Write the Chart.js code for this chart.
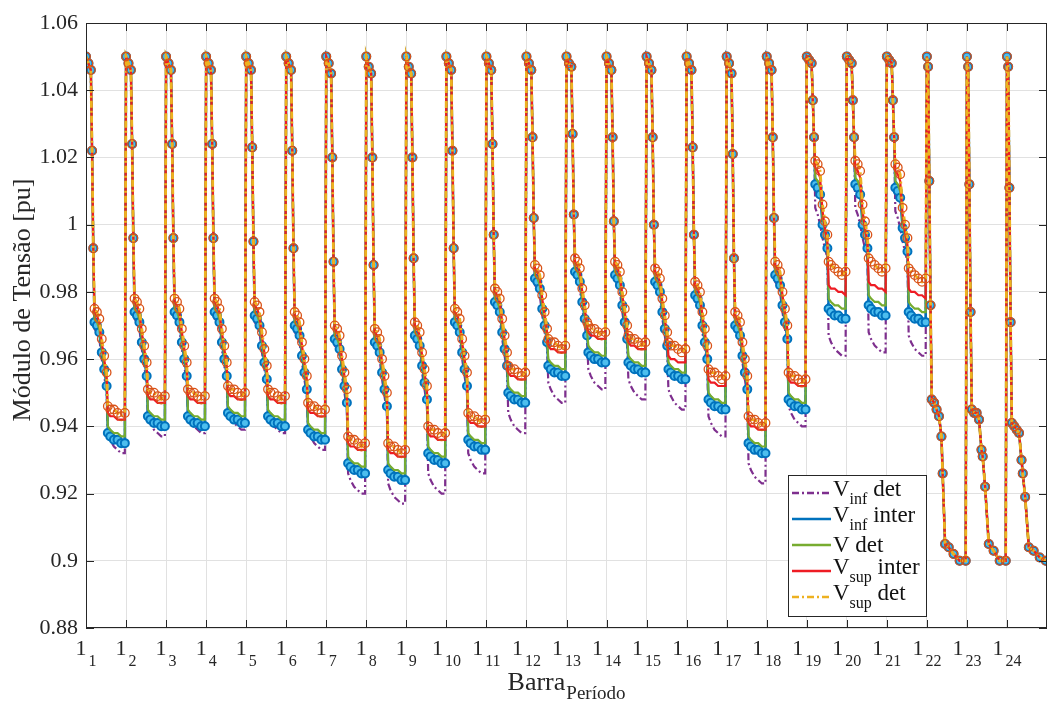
<!DOCTYPE html>
<html>
<head>
<meta charset="utf-8">
<script src="https://cdn.jsdelivr.net/npm/chart.js@4.4.1/dist/chart.umd.min.js"></script>
<style>
  html, body { margin: 0; padding: 0; background: #fff; }
  #wrap { width: 1054px; height: 702px; }
</style>
</head>
<body>
<div id="wrap"><canvas id="chart" width="1054" height="702"></canvas></div>
<script>
const periods = [1, 2, 3, 4, 5, 6, 7, 8, 9, 10, 11, 12, 13, 14, 15, 16, 17, 18, 19, 20, 21, 22, 23, 24]
const busesPerPeriod = 33
const yTicks = [0.88, 0.9, 0.92, 0.94, 0.96, 0.98, 1, 1.02, 1.04, 1.06]

// buses sampled in periods 1-21 and in periods 22-24
const earlyBuses = [1, 3, 5, 6, 7, 8, 10, 12, 14, 16, 18, 19, 21, 24, 27, 30, 33]
const lateBuses = [1, 2, 3, 4, 5, 7, 9, 11, 13, 14, 16, 19, 23, 28, 33]

// buses 1,3,5,6,7 of periods 1-21 (same for every curve)
const headVoltages = [
    [1.05, 1.048, 1.046, 1.022, 0.993],
    [1.05, 1.048, 1.046, 1.024, 0.996],
    [1.05, 1.048, 1.046, 1.024, 0.996],
    [1.05, 1.048, 1.046, 1.024, 0.996],
    [1.05, 1.048, 1.046, 1.023, 0.995],
    [1.05, 1.048, 1.046, 1.022, 0.993],
    [1.05, 1.048, 1.045, 1.020, 0.989],
    [1.05, 1.047, 1.045, 1.020, 0.988],
    [1.05, 1.047, 1.045, 1.020, 0.990],
    [1.05, 1.048, 1.046, 1.022, 0.993],
    [1.05, 1.048, 1.046, 1.024, 0.997],
    [1.05, 1.048, 1.046, 1.026, 1.002],
    [1.05, 1.048, 1.047, 1.027, 1.003],
    [1.05, 1.048, 1.046, 1.026, 1.001],
    [1.05, 1.048, 1.046, 1.026, 1.000],
    [1.05, 1.048, 1.046, 1.023, 0.997],
    [1.05, 1.048, 1.045, 1.021, 0.990],
    [1.05, 1.048, 1.046, 1.026, 1.002],
    [1.05, 1.049, 1.048, 1.037, 1.026],
    [1.05, 1.049, 1.048, 1.037, 1.026],
    [1.05, 1.049, 1.048, 1.037, 1.026]
]

// buses 8..33 of periods 1-21, one row per period
const vSupDet = [
    [0.975, 0.974, 0.972, 0.966, 0.961, 0.956, 0.946, 0.945, 0.945, 0.944, 0.943, 0.944],
    [0.978, 0.977, 0.975, 0.969, 0.964, 0.959, 0.951, 0.950, 0.950, 0.949, 0.948, 0.949],
    [0.978, 0.977, 0.975, 0.969, 0.964, 0.959, 0.951, 0.950, 0.950, 0.949, 0.948, 0.949],
    [0.978, 0.977, 0.975, 0.969, 0.964, 0.959, 0.952, 0.951, 0.951, 0.950, 0.949, 0.950],
    [0.977, 0.976, 0.974, 0.968, 0.963, 0.958, 0.951, 0.950, 0.950, 0.949, 0.948, 0.949],
    [0.974, 0.973, 0.971, 0.965, 0.960, 0.955, 0.947, 0.946, 0.946, 0.945, 0.944, 0.945],
    [0.970, 0.969, 0.967, 0.961, 0.956, 0.951, 0.937, 0.936, 0.936, 0.935, 0.934, 0.935],
    [0.969, 0.968, 0.966, 0.960, 0.955, 0.950, 0.935, 0.934, 0.934, 0.933, 0.932, 0.933],
    [0.971, 0.970, 0.968, 0.962, 0.957, 0.952, 0.940, 0.939, 0.939, 0.938, 0.937, 0.938],
    [0.975, 0.974, 0.972, 0.966, 0.961, 0.956, 0.944, 0.943, 0.943, 0.942, 0.941, 0.942],
    [0.981, 0.980, 0.978, 0.972, 0.967, 0.962, 0.958, 0.957, 0.957, 0.956, 0.955, 0.956],
    [0.988, 0.987, 0.985, 0.979, 0.974, 0.969, 0.966, 0.965, 0.965, 0.964, 0.963, 0.964],
    [0.990, 0.989, 0.987, 0.981, 0.976, 0.971, 0.970, 0.969, 0.969, 0.968, 0.967, 0.968],
    [0.989, 0.988, 0.986, 0.980, 0.975, 0.970, 0.967, 0.966, 0.966, 0.965, 0.964, 0.965],
    [0.987, 0.986, 0.984, 0.978, 0.973, 0.968, 0.965, 0.964, 0.964, 0.963, 0.962, 0.963],
    [0.983, 0.982, 0.980, 0.974, 0.969, 0.964, 0.957, 0.956, 0.956, 0.955, 0.954, 0.955],
    [0.974, 0.973, 0.971, 0.965, 0.960, 0.955, 0.943, 0.942, 0.942, 0.941, 0.940, 0.941],
    [0.989, 0.988, 0.986, 0.980, 0.975, 0.970, 0.956, 0.955, 0.955, 0.954, 0.953, 0.954],
    [1.019, 1.018, 1.016, 1.006, 1.001, 0.997, 0.989, 0.988, 0.987, 0.986, 0.985, 0.986],
    [1.019, 1.018, 1.016, 1.006, 1.001, 0.997, 0.990, 0.989, 0.988, 0.987, 0.986, 0.987],
    [1.018, 1.017, 1.015, 1.005, 1.000, 0.996, 0.987, 0.986, 0.985, 0.984, 0.983, 0.984]
]

const vSupInter = [
    [0.974, 0.973, 0.971, 0.965, 0.960, 0.955, 0.944, 0.943, 0.943, 0.942, 0.942, 0.942],
    [0.977, 0.976, 0.974, 0.968, 0.963, 0.958, 0.949, 0.948, 0.948, 0.947, 0.947, 0.947],
    [0.977, 0.976, 0.974, 0.968, 0.963, 0.958, 0.949, 0.948, 0.948, 0.947, 0.947, 0.947],
    [0.977, 0.976, 0.974, 0.968, 0.963, 0.958, 0.950, 0.949, 0.949, 0.948, 0.948, 0.948],
    [0.976, 0.975, 0.973, 0.967, 0.962, 0.957, 0.949, 0.948, 0.948, 0.947, 0.947, 0.947],
    [0.973, 0.972, 0.970, 0.964, 0.959, 0.954, 0.945, 0.944, 0.944, 0.943, 0.943, 0.943],
    [0.969, 0.968, 0.966, 0.960, 0.955, 0.950, 0.935, 0.934, 0.934, 0.933, 0.933, 0.933],
    [0.968, 0.967, 0.965, 0.959, 0.954, 0.949, 0.933, 0.932, 0.932, 0.931, 0.931, 0.931],
    [0.970, 0.969, 0.967, 0.961, 0.956, 0.951, 0.938, 0.937, 0.937, 0.936, 0.936, 0.936],
    [0.974, 0.973, 0.971, 0.965, 0.960, 0.955, 0.942, 0.941, 0.941, 0.940, 0.940, 0.940],
    [0.980, 0.979, 0.977, 0.971, 0.966, 0.961, 0.956, 0.955, 0.955, 0.954, 0.954, 0.954],
    [0.987, 0.986, 0.984, 0.978, 0.973, 0.968, 0.964, 0.963, 0.963, 0.962, 0.962, 0.962],
    [0.989, 0.988, 0.986, 0.980, 0.975, 0.970, 0.968, 0.967, 0.967, 0.966, 0.966, 0.966],
    [0.988, 0.987, 0.985, 0.979, 0.974, 0.969, 0.965, 0.964, 0.964, 0.963, 0.963, 0.963],
    [0.986, 0.985, 0.983, 0.977, 0.972, 0.967, 0.961, 0.960, 0.960, 0.959, 0.959, 0.959],
    [0.982, 0.981, 0.979, 0.973, 0.968, 0.963, 0.954, 0.953, 0.953, 0.952, 0.952, 0.952],
    [0.973, 0.972, 0.970, 0.964, 0.959, 0.954, 0.941, 0.940, 0.940, 0.939, 0.939, 0.939],
    [0.988, 0.987, 0.985, 0.979, 0.974, 0.969, 0.954, 0.953, 0.953, 0.952, 0.952, 0.952],
    [1.017, 1.016, 1.014, 1.004, 0.999, 0.995, 0.982, 0.981, 0.981, 0.980, 0.980, 0.979],
    [1.017, 1.016, 1.014, 1.004, 0.999, 0.995, 0.983, 0.982, 0.982, 0.981, 0.981, 0.980],
    [1.016, 1.015, 1.013, 1.003, 0.998, 0.994, 0.981, 0.980, 0.980, 0.979, 0.979, 0.978]
]

const vDet = [
    [0.972, 0.971, 0.969, 0.963, 0.958, 0.953, 0.940, 0.939, 0.938, 0.938, 0.937, 0.937],
    [0.975, 0.974, 0.972, 0.966, 0.961, 0.956, 0.945, 0.944, 0.943, 0.943, 0.942, 0.942],
    [0.975, 0.974, 0.972, 0.966, 0.961, 0.956, 0.945, 0.944, 0.943, 0.943, 0.942, 0.942],
    [0.975, 0.974, 0.972, 0.966, 0.961, 0.956, 0.946, 0.945, 0.944, 0.944, 0.943, 0.943],
    [0.974, 0.973, 0.971, 0.965, 0.960, 0.955, 0.945, 0.944, 0.943, 0.943, 0.942, 0.942],
    [0.971, 0.970, 0.968, 0.962, 0.957, 0.952, 0.941, 0.940, 0.939, 0.939, 0.938, 0.938],
    [0.967, 0.966, 0.964, 0.958, 0.953, 0.948, 0.931, 0.930, 0.929, 0.929, 0.928, 0.928],
    [0.966, 0.965, 0.963, 0.957, 0.952, 0.947, 0.929, 0.928, 0.927, 0.927, 0.926, 0.926],
    [0.968, 0.967, 0.965, 0.959, 0.954, 0.949, 0.934, 0.933, 0.932, 0.932, 0.931, 0.931],
    [0.972, 0.971, 0.969, 0.963, 0.958, 0.953, 0.938, 0.937, 0.936, 0.936, 0.935, 0.935],
    [0.978, 0.977, 0.975, 0.969, 0.964, 0.959, 0.952, 0.951, 0.950, 0.950, 0.949, 0.949],
    [0.985, 0.984, 0.982, 0.976, 0.971, 0.966, 0.960, 0.959, 0.958, 0.958, 0.957, 0.957],
    [0.987, 0.986, 0.984, 0.978, 0.973, 0.968, 0.964, 0.963, 0.962, 0.962, 0.961, 0.961],
    [0.986, 0.985, 0.983, 0.977, 0.972, 0.967, 0.961, 0.960, 0.959, 0.959, 0.958, 0.958],
    [0.984, 0.983, 0.981, 0.975, 0.970, 0.965, 0.959, 0.958, 0.957, 0.957, 0.956, 0.956],
    [0.980, 0.979, 0.977, 0.971, 0.966, 0.961, 0.950, 0.949, 0.948, 0.948, 0.947, 0.947],
    [0.971, 0.970, 0.968, 0.962, 0.957, 0.952, 0.937, 0.936, 0.935, 0.935, 0.934, 0.934],
    [0.986, 0.985, 0.983, 0.977, 0.972, 0.967, 0.950, 0.949, 0.948, 0.948, 0.947, 0.947],
    [1.014, 1.013, 1.011, 1.002, 0.998, 0.994, 0.978, 0.977, 0.976, 0.976, 0.975, 0.975],
    [1.014, 1.013, 1.011, 1.002, 0.998, 0.994, 0.979, 0.978, 0.977, 0.977, 0.976, 0.976],
    [1.013, 1.012, 1.010, 1.001, 0.997, 0.993, 0.977, 0.976, 0.975, 0.975, 0.974, 0.974]
]

const vInfInter = [
    [0.971, 0.970, 0.968, 0.962, 0.957, 0.952, 0.938, 0.937, 0.936, 0.936, 0.935, 0.935],
    [0.974, 0.973, 0.971, 0.965, 0.960, 0.955, 0.943, 0.942, 0.941, 0.941, 0.940, 0.940],
    [0.974, 0.973, 0.971, 0.965, 0.960, 0.955, 0.943, 0.942, 0.941, 0.941, 0.940, 0.940],
    [0.974, 0.973, 0.971, 0.965, 0.960, 0.955, 0.944, 0.943, 0.942, 0.942, 0.941, 0.941],
    [0.973, 0.972, 0.970, 0.964, 0.959, 0.954, 0.943, 0.942, 0.941, 0.941, 0.940, 0.940],
    [0.970, 0.969, 0.967, 0.961, 0.956, 0.951, 0.939, 0.938, 0.937, 0.937, 0.936, 0.936],
    [0.966, 0.965, 0.963, 0.957, 0.952, 0.947, 0.929, 0.928, 0.927, 0.927, 0.926, 0.926],
    [0.965, 0.964, 0.962, 0.956, 0.951, 0.946, 0.927, 0.926, 0.925, 0.925, 0.924, 0.924],
    [0.967, 0.966, 0.964, 0.958, 0.953, 0.948, 0.932, 0.931, 0.930, 0.930, 0.929, 0.929],
    [0.971, 0.970, 0.968, 0.962, 0.957, 0.952, 0.936, 0.935, 0.934, 0.934, 0.933, 0.933],
    [0.977, 0.976, 0.974, 0.968, 0.963, 0.958, 0.950, 0.949, 0.948, 0.948, 0.947, 0.947],
    [0.984, 0.983, 0.981, 0.975, 0.970, 0.965, 0.958, 0.957, 0.956, 0.956, 0.955, 0.955],
    [0.986, 0.985, 0.983, 0.977, 0.972, 0.967, 0.962, 0.961, 0.960, 0.960, 0.959, 0.959],
    [0.985, 0.984, 0.982, 0.976, 0.971, 0.966, 0.959, 0.958, 0.957, 0.957, 0.956, 0.956],
    [0.983, 0.982, 0.980, 0.974, 0.969, 0.964, 0.957, 0.956, 0.955, 0.955, 0.954, 0.954],
    [0.979, 0.978, 0.976, 0.970, 0.965, 0.960, 0.948, 0.947, 0.946, 0.946, 0.945, 0.945],
    [0.970, 0.969, 0.967, 0.961, 0.956, 0.951, 0.935, 0.934, 0.933, 0.933, 0.932, 0.932],
    [0.985, 0.984, 0.982, 0.976, 0.971, 0.966, 0.948, 0.947, 0.946, 0.946, 0.945, 0.945],
    [1.012, 1.011, 1.009, 1.000, 0.997, 0.993, 0.975, 0.974, 0.973, 0.973, 0.972, 0.972],
    [1.012, 1.011, 1.009, 1.000, 0.997, 0.993, 0.976, 0.975, 0.974, 0.974, 0.973, 0.973],
    [1.011, 1.010, 1.008, 0.999, 0.996, 0.992, 0.974, 0.973, 0.972, 0.972, 0.971, 0.971]
]

const vInfDet = [
    [0.969, 0.968, 0.966, 0.960, 0.955, 0.950, 0.938, 0.936, 0.934, 0.933, 0.932, 0.932],
    [0.972, 0.971, 0.969, 0.963, 0.958, 0.953, 0.943, 0.941, 0.939, 0.938, 0.937, 0.937],
    [0.972, 0.971, 0.969, 0.963, 0.958, 0.953, 0.944, 0.942, 0.940, 0.939, 0.938, 0.938],
    [0.972, 0.971, 0.969, 0.963, 0.958, 0.953, 0.945, 0.943, 0.941, 0.940, 0.939, 0.939],
    [0.971, 0.970, 0.968, 0.962, 0.957, 0.952, 0.944, 0.942, 0.940, 0.939, 0.938, 0.938],
    [0.968, 0.967, 0.965, 0.959, 0.954, 0.949, 0.939, 0.937, 0.935, 0.934, 0.933, 0.933],
    [0.964, 0.963, 0.961, 0.955, 0.950, 0.945, 0.926, 0.924, 0.922, 0.921, 0.920, 0.920],
    [0.963, 0.962, 0.960, 0.954, 0.949, 0.944, 0.923, 0.921, 0.919, 0.918, 0.917, 0.917],
    [0.965, 0.964, 0.962, 0.956, 0.951, 0.946, 0.926, 0.924, 0.922, 0.921, 0.920, 0.920],
    [0.969, 0.968, 0.966, 0.960, 0.955, 0.950, 0.932, 0.930, 0.928, 0.927, 0.926, 0.926],
    [0.975, 0.974, 0.972, 0.966, 0.961, 0.956, 0.944, 0.942, 0.940, 0.939, 0.938, 0.938],
    [0.982, 0.981, 0.979, 0.973, 0.968, 0.963, 0.953, 0.951, 0.949, 0.948, 0.947, 0.947],
    [0.984, 0.983, 0.981, 0.975, 0.970, 0.965, 0.957, 0.955, 0.953, 0.952, 0.951, 0.951],
    [0.983, 0.982, 0.980, 0.974, 0.969, 0.964, 0.954, 0.952, 0.950, 0.949, 0.948, 0.948],
    [0.981, 0.980, 0.978, 0.972, 0.967, 0.962, 0.951, 0.949, 0.947, 0.946, 0.945, 0.945],
    [0.977, 0.976, 0.974, 0.968, 0.963, 0.958, 0.943, 0.941, 0.939, 0.938, 0.937, 0.937],
    [0.968, 0.967, 0.965, 0.959, 0.954, 0.949, 0.929, 0.927, 0.925, 0.924, 0.923, 0.923],
    [0.983, 0.982, 0.980, 0.974, 0.969, 0.964, 0.946, 0.944, 0.942, 0.941, 0.940, 0.940],
    [1.005, 1.003, 1.000, 0.996, 0.993, 0.990, 0.967, 0.965, 0.963, 0.962, 0.961, 0.961],
    [1.005, 1.003, 1.000, 0.996, 0.993, 0.990, 0.968, 0.966, 0.964, 0.963, 0.962, 0.962],
    [1.004, 1.002, 0.999, 0.995, 0.992, 0.989, 0.967, 0.965, 0.963, 0.962, 0.961, 0.961]
]

// periods 22-24: all five curves coincide
const tailVoltages = [
    [1.050, 1.047, 1.013, 0.976, 0.948, 0.947, 0.945, 0.943, 0.937, 0.926, 0.905, 0.904, 0.902, 0.900, 0.900],
    [1.050, 1.047, 1.012, 0.974, 0.945, 0.944, 0.944, 0.942, 0.933, 0.931, 0.922, 0.905, 0.903, 0.900, 0.900],
    [1.050, 1.047, 1.011, 0.971, 0.941, 0.940, 0.939, 0.938, 0.930, 0.926, 0.919, 0.904, 0.903, 0.901, 0.900]
]

const serif = '"Liberation Serif", "DejaVu Serif", serif'
const textColor = '#262626'
const gridColor = '#e1e1e1'

function buildSeries(rows) {
    const points = []
    rows.forEach((row, p) => {
        const values = headVoltages[p].concat(row)
        earlyBuses.forEach((bus, i) => points.push({ x: p * busesPerPeriod + bus, y: values[i] }))
    })
    tailVoltages.forEach((values, j) => {
        const p = rows.length + j
        lateBuses.forEach((bus, i) => points.push({ x: p * busesPerPeriod + bus, y: values[i] }))
    })
    return points
}

const legendRows = [
    { main: 'V', sub: 'inf', rest: ' det', color: '#7E2F8E', dash: [7, 3, 2, 3] },
    { main: 'V', sub: 'inf', rest: ' inter', color: '#0072BD', dash: [] },
    { main: 'V det', sub: '', rest: '', color: '#77AC30', dash: [] },
    { main: 'V', sub: 'sup', rest: ' inter', color: '#EE1C24', dash: [] },
    { main: 'V', sub: 'sup', rest: ' det', color: '#EDB120', dash: [7, 3, 2, 3] }
]

// box, inward ticks, subscripted labels and legend
const decorations = {
    id: 'decorations',
    afterDraw(chart) {
        const { ctx, chartArea: a, scales: { x, y } } = chart
        ctx.save()
        ctx.strokeStyle = textColor
        ctx.lineWidth = 1
        ctx.strokeRect(a.left + 0.5, a.top + 0.5, a.right - a.left - 1, a.bottom - a.top - 1)

        const tick = 8
        ctx.beginPath()
        periods.forEach(k => {
            const px = Math.round(x.getPixelForValue((k - 1) * busesPerPeriod + 1)) + 0.5
            ctx.moveTo(px, a.bottom); ctx.lineTo(px, a.bottom - tick)
            ctx.moveTo(px, a.top); ctx.lineTo(px, a.top + tick)
        })
        yTicks.forEach(v => {
            const py = Math.round(y.getPixelForValue(v)) + 0.5
            ctx.moveTo(a.left, py); ctx.lineTo(a.left + tick, py)
            ctx.moveTo(a.right, py); ctx.lineTo(a.right - tick, py)
        })
        ctx.stroke()

        // x tick labels: 1 with the period as subscript
        ctx.fillStyle = textColor
        ctx.textAlign = 'left'
        ctx.textBaseline = 'alphabetic'
        periods.forEach(k => {
            const px = x.getPixelForValue((k - 1) * busesPerPeriod + 1)
            ctx.font = '22px ' + serif
            const w1 = ctx.measureText('1').width
            ctx.font = '16px ' + serif
            const w2 = ctx.measureText(String(k)).width
            const left = px - (w1 + 2 + w2) / 2
            ctx.font = '22px ' + serif
            ctx.fillText('1', left, 655)
            ctx.font = '16px ' + serif
            ctx.fillText(String(k), left + w1 + 2, 666)
        })

        // x title
        ctx.font = '26px ' + serif
        const wb = ctx.measureText('Barra').width
        ctx.font = '19px ' + serif
        const wp = ctx.measureText('Período').width
        const tx = (a.left + a.right) / 2 - (wb + wp + 1) / 2
        ctx.font = '26px ' + serif
        ctx.fillText('Barra', tx, 690)
        ctx.font = '19px ' + serif
        ctx.fillText('Período', tx + wb + 1, 699)

        // y title
        ctx.save()
        ctx.translate(23, 300)
        ctx.rotate(-Math.PI / 2)
        ctx.font = '26px ' + serif
        ctx.textAlign = 'center'
        ctx.textBaseline = 'middle'
        ctx.fillText('Módulo de Tensão [pu]', 0, 0)
        ctx.restore()

        // legend
        const bx = 788, by = 475, bw = 138, bh = 141
        ctx.fillStyle = '#fff'
        ctx.fillRect(bx, by, bw, bh)
        ctx.strokeStyle = textColor
        ctx.strokeRect(bx + 0.5, by + 0.5, bw, bh)
        legendRows.forEach((row, i) => {
            const ly = 493 + i * 26
            ctx.strokeStyle = row.color
            ctx.lineWidth = 2.5
            ctx.setLineDash(row.dash)
            ctx.beginPath()
            ctx.moveTo(792, ly); ctx.lineTo(831, ly)
            ctx.stroke()
            ctx.setLineDash([])
            ctx.fillStyle = '#111'
            const base = row.sub ? ly + 3 : ly + 7
            let cx = 833
            ctx.font = '23px ' + serif
            ctx.fillText(row.main, cx, base)
            cx += ctx.measureText(row.main).width
            if (row.sub) {
                ctx.font = '16px ' + serif
                ctx.fillText(row.sub, cx, base + 8)
                cx += ctx.measureText(row.sub).width
                ctx.font = '23px ' + serif
                ctx.fillText(row.rest, cx, base)
            }
        })
        ctx.restore()
    }
}

new Chart(document.getElementById('chart').getContext('2d'), {
    type: 'line',
    data: {
        datasets: [
            {
                label: 'V_sup det', data: buildSeries(vSupDet), order: 0,
                borderColor: '#EDB120', borderWidth: 2.8, borderDash: [7, 3, 2, 3],
                pointRadius: 4.3, pointBorderColor: '#D95319', pointBackgroundColor: 'rgba(0,0,0,0)', pointBorderWidth: 1.3
            },
            {
                label: 'V_sup inter', data: buildSeries(vSupInter), order: 1,
                borderColor: '#EE1C24', borderWidth: 2.2, pointRadius: 0
            },
            {
                label: 'V det', data: buildSeries(vDet), order: 2,
                borderColor: '#77AC30', borderWidth: 2.2, pointRadius: 0
            },
            {
                label: 'V_inf inter', data: buildSeries(vInfInter), order: 3,
                borderColor: '#0072BD', borderWidth: 2.5,
                pointRadius: 4, pointBorderColor: '#0072BD', pointBackgroundColor: '#4DBEEE', pointBorderWidth: 2
            },
            {
                label: 'V_inf det', data: buildSeries(vInfDet), order: 4,
                borderColor: '#7E2F8E', borderWidth: 2.2, borderDash: [7, 3, 2, 3], pointRadius: 0
            }
        ]
    },
    options: {
        responsive: false,
        animation: false,
        layout: { padding: { top: 23, right: 7, bottom: 0, left: 0 } },
        elements: { line: { tension: 0, fill: false } },
        plugins: { legend: { display: false }, tooltip: { enabled: false } },
        scales: {
            x: {
                type: 'linear',
                min: 1,
                max: periods.length * busesPerPeriod + 1,
                afterBuildTicks: s => { s.ticks = periods.map(k => ({ value: (k - 1) * busesPerPeriod + 1 })) },
                afterFit: s => { s.height = 74 },
                ticks: { display: false },
                grid: { color: gridColor, drawTicks: false },
                border: { display: false }
            },
            y: {
                min: 0.88,
                max: 1.06,
                afterBuildTicks: s => { s.ticks = yTicks.map(v => ({ value: v })) },
                afterFit: s => { s.width = 86 },
                ticks: {
                    font: { family: serif, size: 22 },
                    color: textColor,
                    padding: 8,
                    callback: v => String(+Number(v).toFixed(2))
                },
                grid: { color: gridColor, drawTicks: false },
                border: { display: false }
            }
        }
    },
    plugins: [decorations]
})
</script>
</body>
</html>
